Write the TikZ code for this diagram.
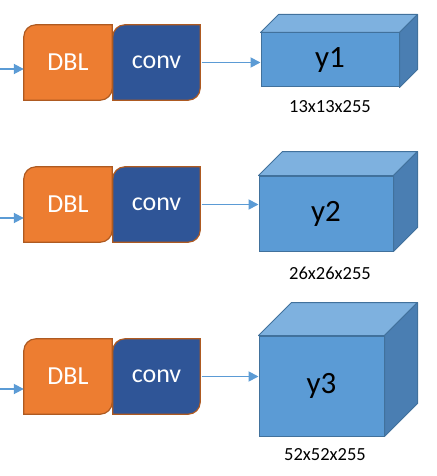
\documentclass[tikz,border=0pt]{standalone}
\usepackage{fontspec}
\setmainfont{Carlito}
\usetikzlibrary{calc,arrows.meta}
\pgfdeclarelayer{bg}
\pgfsetlayers{bg,main}
\definecolor{dblfill}{HTML}{ED7D31}
\definecolor{dblline}{HTML}{AE5A21}
\definecolor{convfill}{HTML}{2F5597}
\definecolor{front}{HTML}{5B9BD5}
\definecolor{topf}{HTML}{7EB1DF}
\definecolor{sidef}{HTML}{4A7EB2}
\definecolor{edge}{HTML}{41719C}
\definecolor{arrc}{HTML}{5B9BD5}
\tikzset{
  blk/.style={minimum height=75pt, inner sep=0pt, text=white, font=\fontsize{26}{30}\selectfont},
  face/.style={draw=edge, line width=1pt, inner sep=0pt},
  arr/.style={draw=arrc, line width=1.8pt, -{Triangle[length=10pt,width=10pt]}},
  dim/.style={font=\fontsize{18.5}{22}\selectfont, inner sep=0pt},
  ylab/.style={font=\fontsize{31}{36}\selectfont}
}
\newcommand\diagshape[3]{% node, fill, r
  \path[fill=#2, draw=dblline, line width=1.2pt]
    (#1.south west) -- ($(#1.north west)+(0,#3)$)
    .. controls ($(#1.north west)+(0,0.45*#3)$) and ($(#1.north west)+(0.45*#3,0)$) .. ($(#1.north west)+(#3,0)$)
    -- (#1.north east) -- ($(#1.south east)+(0,-#3)$)
    .. controls ($(#1.south east)+(0,-0.45*#3)$) and ($(#1.south east)+(-0.45*#3,0)$) .. ($(#1.south east)+(-#3,0)$)
    -- cycle;}
\newcommand\cubefaces[2]{% node, depth
  \path[fill=topf, draw=edge, line width=1pt, line join=round]
    (#1.north west) -- ($(#1.north west)+(#2,-#2)$) -- ($(#1.north east)+(#2,-#2)$) -- (#1.north east) -- cycle;
  \path[fill=sidef, draw=edge, line width=1pt, line join=round]
    (#1.north east) -- ($(#1.north east)+(#2,-#2)$) -- ($(#1.south east)+(#2,-#2)$) -- (#1.south east) -- cycle;}
\begin{document}
\begin{tikzpicture}[x=1pt,y=-1pt]
\useasboundingbox (0,0) rectangle (436,476);
% row 1
\node[blk, minimum width=88pt] (d1) at (68,62.5) {DBL};
\node[blk, minimum width=87pt] (c1) at (156.5,62.5) {conv};
\node[face, fill=front, minimum width=138pt, minimum height=54pt, ylab] (y1) at (330,60) {y1};
\node[dim] (l1) at (330,107) {13x13x255};
\coordinate (i1) at (0,69);
% row 2
\node[blk, minimum width=88pt] (d2) at (68,204.5) {DBL};
\node[blk, minimum width=87pt] (c2) at (156.5,204.5) {conv};
\node[face, fill=front, minimum width=134pt, minimum height=75pt, ylab] (y2) at (326,213.5) {y2};
\node[dim] (l2) at (330,273) {26x26x255};
\coordinate (i2) at (0,218);
% row 3
\node[blk, minimum width=88pt] (d3) at (68,376.5) {DBL};
\node[blk, minimum width=87pt] (c3) at (156.5,376.5) {conv};
\node[face, fill=front, minimum width=125pt, minimum height=100pt, ylab] (y3) at (321.5,386) {y3};
\node[dim] (l3) at (325,455) {52x52x255};
\coordinate (i3) at (0,389);
\begin{pgfonlayer}{bg}
  \diagshape{d1}{dblfill}{12}
  \diagshape{c1}{convfill}{12}
  \diagshape{d2}{dblfill}{12}
  \diagshape{c2}{convfill}{12}
  \diagshape{d3}{dblfill}{12}
  \diagshape{c3}{convfill}{12}
  \cubefaces{y1}{18}
  \cubefaces{y2}{24}
  \cubefaces{y3}{33}
\end{pgfonlayer}
% arrows
\draw[arr] (i1) -- (i1 -| d1.west);
\draw[arr] (i2) -- (i2 -| d2.west);
\draw[arr] (i3) -- (i3 -| d3.west);
\draw[arr] ([xshift=1.5pt]c1.east) -- (c1.east -| y1.west);
\draw[arr] ([xshift=1.5pt]c2.east) -- (c2.east -| y2.west);
\draw[arr] ([xshift=1.5pt]c3.east) -- (c3.east -| y3.west);
\end{tikzpicture}
\end{document}
